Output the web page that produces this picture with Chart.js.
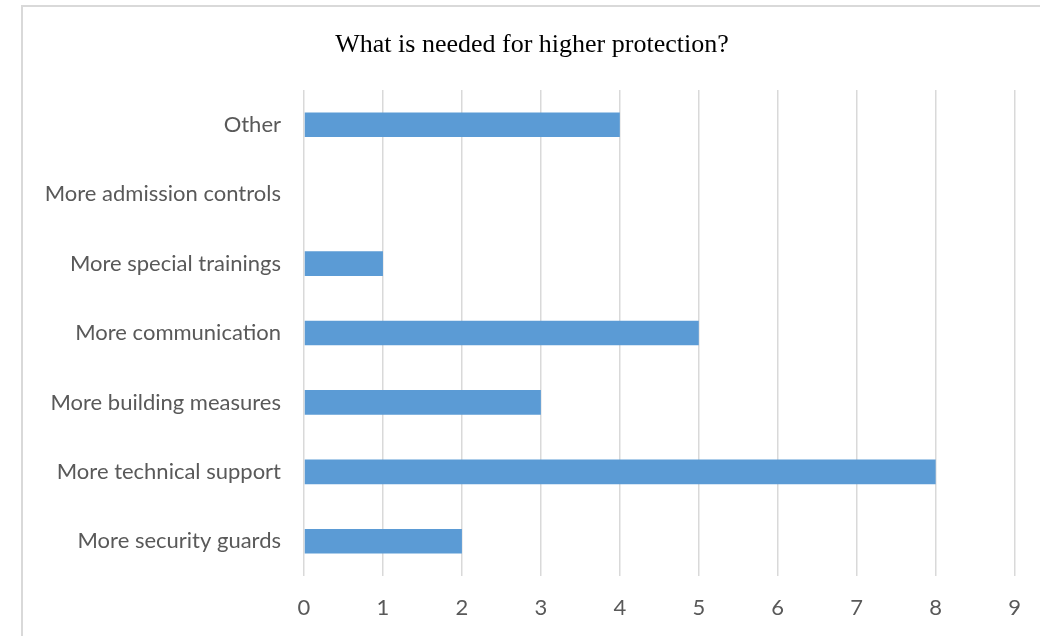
<!DOCTYPE html>
<html>
<head>
<meta charset="utf-8">
<script src="https://cdn.jsdelivr.net/npm/chart.js@4.4.1/dist/chart.umd.min.js"></script>
<style>
  html, body { margin: 0; padding: 0; background: #ffffff; }
  #wrap { position: relative; width: 1040px; height: 636px; }
  canvas { display: block; }
</style>
</head>
<body>
<div id="wrap"><canvas id="c" width="1040" height="636"></canvas></div>
<script>
const chartTitle = "What is needed for higher protection?";
const categories = [
  "Other",
  "More admission controls",
  "More special trainings",
  "More communication",
  "More building measures",
  "More technical support",
  "More security guards"
];
const counts = [4, 0, 1, 5, 3, 8, 2];
const tickValues = [0, 1, 2, 3, 4, 5, 6, 7, 8, 9];

const frame = {
  id: 'frame',
  beforeDraw(chart) {
    const ctx = chart.ctx;
    ctx.save();
    ctx.fillStyle = '#ffffff';
    ctx.fillRect(0, 0, chart.width, chart.height);
    ctx.strokeStyle = '#d9d9d9';
    ctx.lineWidth = 2;
    ctx.beginPath();
    ctx.moveTo(22, 636);
    ctx.lineTo(22, 6);
    ctx.lineTo(1040, 6);
    ctx.stroke();
    ctx.restore();
  }
};

const labelFont = { family: "Lato, 'Open Sans', sans-serif", size: 22 };

new Chart(document.getElementById('c'), {
  type: 'bar',
  data: {
    labels: categories,
    datasets: [{
      data: counts,
      backgroundColor: '#5b9bd5',
      borderWidth: 0,
      barPercentage: 0.355,
      categoryPercentage: 1.0
    }]
  },
  options: {
    indexAxis: 'y',
    responsive: false,
    animation: false,
    layout: { padding: { left: 44, right: 20, top: 0, bottom: 0 } },
    plugins: {
      legend: { display: false },
      tooltip: { enabled: false },
      title: {
        display: true,
        text: chartTitle,
        color: '#000000',
        font: { family: "'Liberation Serif', 'Times New Roman', serif", size: 26, weight: 'normal', lineHeight: 1.2 },
        padding: { top: 29.4, bottom: 29.4 }
      }
    },
    scales: {
      x: {
        min: 0,
        max: 9,
        afterBuildTicks(scale) { scale.ticks = tickValues.map(v => ({ value: v })); },
        afterFit(scale) { scale.height = 60; },
        grid: { color: '#d9d9d9', lineWidth: 1.5, drawTicks: false },
        border: { display: false },
        ticks: { color: '#595959', font: labelFont, padding: 19, maxRotation: 0 }
      },
      y: {
        afterFit(scale) { scale.width = 260; },
        grid: { display: false, drawTicks: false },
        border: { display: false },
        ticks: { color: '#595959', font: labelFont, padding: 23 }
      }
    }
  },
  plugins: [frame]
});
</script>
</body>
</html>
